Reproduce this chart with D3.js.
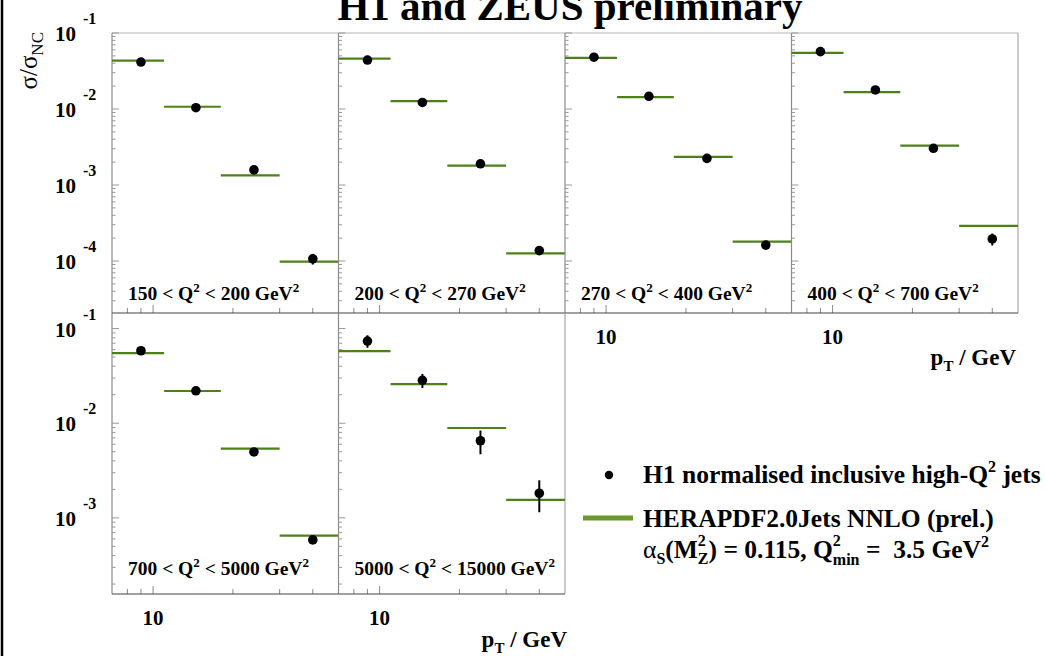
<!DOCTYPE html>
<html>
<head>
<meta charset="utf-8">
<script src="https://cdn.jsdelivr.net/npm/d3@7"></script>
<style>
  body { margin: 0; background: #fff; }
  svg text { font-family: "Liberation Serif", "DejaVu Serif", serif; font-weight: bold; fill: #000; white-space: pre; }
</style>
</head>
<body>
<div id="chart"></div>
<script>
// pT bins (GeV) and the bin centres of the measurement
const ptEdges = [7, 11, 18, 30, 50];
const ptCentres = [9.0, 14.5, 24, 40];

// Q^2 ranges of the six panels
const q2Ranges = [["150", "200"], ["200", "270"], ["270", "400"], ["400", "700"], ["700", "5000"], ["5000", "15000"]];

// H1 normalised inclusive jets, sigma/sigma_NC
const h1Values = [
    [0.0415, 0.0104, 1.58e-3, 1.07e-4],
    [0.0441, 0.0122, 1.90e-3, 1.37e-4],
    [0.0480, 0.0147, 2.24e-3, 1.62e-4],
    [0.0568, 0.0178, 3.04e-3, 1.95e-4],
    [0.0583, 0.0220, 4.97e-3, 5.85e-4],
    [0.0738, 0.0284, 6.53e-3, 1.82e-3]
];
// relative total uncertainties
const h1RelErr = [
    [0.03, 0.03, 0.04, 0.16],
    [0.03, 0.03, 0.04, 0.12],
    [0.03, 0.03, 0.04, 0.10],
    [0.03, 0.03, 0.05, 0.18],
    [0.03, 0.03, 0.05, 0.08],
    [0.15, 0.17, 0.28, 0.37]
];
// HERAPDF2.0Jets NNLO prediction
const herapdf = [
    [0.0433, 0.0107, 1.34e-3, 0.98e-4],
    [0.0459, 0.0127, 1.80e-3, 1.26e-4],
    [0.0470, 0.0143, 2.35e-3, 1.80e-4],
    [0.0546, 0.0167, 3.30e-3, 2.90e-4],
    [0.0551, 0.0219, 5.40e-3, 6.50e-4],
    [0.0578, 0.0259, 8.90e-3, 1.55e-3]
];

const W = 1045, H = 656;
const green = "#4e8018";
const left = 112, panelW = 226.5;
const rows = [
    { top: 33, bottom: 313, domain: [2.07e-5, 0.1], decades: [-1, -2, -3, -4] },
    { top: 313, bottom: 594, domain: [1.57e-4, 0.146], decades: [-1, -2, -3] }
];

const svg = d3.select("#chart").append("svg")
    .attr("width", W).attr("height", H);

// writes a run of text pieces (super/subscripts) one after the other
function richText(g, x, y, segs, anchor, size) {
    const grp = g.append("g");
    let cx = 0, lastW = 0;
    segs.forEach(s => {
        const t = grp.append("text")
            .attr("x", s.stack ? cx - lastW : cx)
            .attr("y", s.shift || 0)
            .style("font-size", (s.size || size) + "px")
            .style("font-weight", s.normal ? "normal" : null)
            .text(s.t);
        const w = t.node().getComputedTextLength();
        if (s.stack) {
            cx = Math.max(cx, cx - lastW + w);
        } else {
            cx += w;
            lastW = w;
        }
    });
    const dx = anchor === "end" ? -cx : anchor === "middle" ? -cx / 2 : 0;
    grp.attr("transform", `translate(${x + dx},${y})`);
    return grp;
}

// the outer frame line on the left
svg.append("line")
    .attr("x1", 2).attr("x2", 2).attr("y1", 0).attr("y2", H)
    .attr("stroke", "#000").attr("stroke-width", 2.5);

// title
svg.append("text")
    .attr("x", 570).attr("y", 20)
    .attr("text-anchor", "middle")
    .style("font-size", "41px")
    .text("H1 and ZEUS preliminary");

q2Ranges.forEach((q, i) => {
    const rowIdx = i < 4 ? 0 : 1;
    const col = i < 4 ? i : i - 4;
    const row = rows[rowIdx];
    const x0 = left + col * panelW, x1 = x0 + panelW;

    const x = d3.scaleLog().domain([ptEdges[0], ptEdges[ptEdges.length - 1]]).range([x0, x1]);
    const y = d3.scaleLog().domain(row.domain).range([row.bottom, row.top]);

    const g = svg.append("g");

    // frame
    if (rowIdx === 0) {
        g.append("line").attr("x1", x0).attr("x2", x1).attr("y1", row.top).attr("y2", row.top)
            .attr("stroke", "#cfcfcf").attr("stroke-width", 1.5);
    }
    const lastInRow = (rowIdx === 0 && col === 3) || (rowIdx === 1 && col === 1);
    if (lastInRow) {
        g.append("line").attr("x1", x1).attr("x2", x1).attr("y1", row.top).attr("y2", row.bottom)
            .attr("stroke", "#aaa").attr("stroke-width", 1.2);
    }
    g.append("line").attr("x1", x0).attr("x2", x0).attr("y1", row.top).attr("y2", row.bottom)
        .attr("stroke", "#8a8a8a").attr("stroke-width", 1.2);

    // y ticks on the left axis
    y.ticks().forEach(v => {
        const major = Math.abs(Math.log10(v) - Math.round(Math.log10(v))) < 1e-6;
        g.append("line")
            .attr("x1", x0).attr("x2", x0 + (major ? 7 : 3.5))
            .attr("y1", y(v)).attr("y2", y(v))
            .attr("stroke", "#999").attr("stroke-width", 1);
    });

    // x ticks on the bottom axis
    x.ticks().forEach(v => {
        if (v <= ptEdges[0] || v >= ptEdges[ptEdges.length - 1]) return;
        const major = v === 10;
        g.append("line")
            .attr("x1", x(v)).attr("x2", x(v))
            .attr("y1", row.bottom).attr("y2", row.bottom - (major ? 8 : 5))
            .attr("stroke", "#888").attr("stroke-width", 1);
    });

    g.append("line").attr("x1", x0).attr("x2", x1).attr("y1", row.bottom).attr("y2", row.bottom)
        .attr("stroke", "#444").attr("stroke-width", 1.2);

    // y tick labels for the first column
    if (col === 0) {
        row.decades.forEach(k => {
            const yy = y(Math.pow(10, k));
            svg.append("text")
                .attr("x", 76).attr("y", yy + 8)
                .attr("text-anchor", "end")
                .style("font-size", "21px")
                .text("10");
            svg.append("text")
                .attr("x", 83).attr("y", yy - 9)
                .style("font-size", "16px")
                .text(String(k));
        });
    }

    // x tick label "10" for panels that sit on the lower edge of their column
    if (rowIdx === 1 || col >= 2) {
        svg.append("text")
            .attr("x", x(10)).attr("y", row.bottom + 31)
            .attr("text-anchor", "middle")
            .style("font-size", "21px")
            .text("10");
    }

    // theory: horizontal bars across each bin
    herapdf[i].forEach((v, b) => {
        g.append("line")
            .attr("x1", x(ptEdges[b])).attr("x2", x(ptEdges[b + 1]))
            .attr("y1", y(v)).attr("y2", y(v))
            .attr("stroke", green).attr("stroke-width", 2.2);
    });

    // data: error bars and markers
    h1Values[i].forEach((v, b) => {
        const e = h1RelErr[i][b];
        g.append("line")
            .attr("x1", x(ptCentres[b])).attr("x2", x(ptCentres[b]))
            .attr("y1", y(v * (1 + e))).attr("y2", y(v * (1 - e)))
            .attr("stroke", "#000").attr("stroke-width", 2);
        g.append("circle")
            .attr("cx", x(ptCentres[b])).attr("cy", y(v))
            .attr("r", 4.8).attr("fill", "#000");
    });

    // Q^2 range label
    richText(svg, x0 + 16, rowIdx === 0 ? 300 : 575, [
        { t: q[0] + " < Q" },
        { t: "2", size: 13, shift: -8 },
        { t: " < " + q[1] + " GeV" },
        { t: "2", size: 13, shift: -8 }
    ], "start", 19.5);
});

// y axis title
const yTitle = richText(svg, 0, 0, [
    { t: "σ/σ", normal: true },
    { t: "NC", size: 17, shift: 6, normal: true }
], "start", 25);
const yTitleLen = yTitle.node().getBBox().width;
yTitle.attr("transform", `translate(37,${32 + yTitleLen}) rotate(-90)`);

// x axis titles
[[567, 647], [1016, 365]].forEach(p => {
    richText(svg, p[0], p[1], [
        { t: "p" },
        { t: "T", size: 15, shift: 6 },
        { t: " / GeV" }
    ], "end", 23);
});

// legend
svg.append("circle").attr("cx", 609).attr("cy", 475).attr("r", 4.2).attr("fill", "#000");
richText(svg, 643, 483, [
    { t: "H1 normalised inclusive high-Q" },
    { t: "2", size: 16, shift: -11 },
    { t: " jets" }
], "start", 25.5);

svg.append("line")
    .attr("x1", 583).attr("x2", 633).attr("y1", 518).attr("y2", 518)
    .attr("stroke", "#6a9a28").attr("stroke-width", 5);
richText(svg, 643, 527, [
    { t: "HERAPDF2.0Jets NNLO (prel.)" }
], "start", 25.5);
richText(svg, 643, 558, [
    { t: "α", normal: true },
    { t: "S", size: 16, shift: 6 },
    { t: "(M" },
    { t: "2", size: 16, shift: -12 },
    { t: "Z", size: 16, shift: 6, stack: true },
    { t: ") = 0.115, Q" },
    { t: "2", size: 16, shift: -12 },
    { t: "min", size: 16, shift: 7, stack: true },
    { t: " =  3.5 GeV" },
    { t: "2", size: 16, shift: -11 }
], "start", 25.5);
</script>
</body>
</html>
